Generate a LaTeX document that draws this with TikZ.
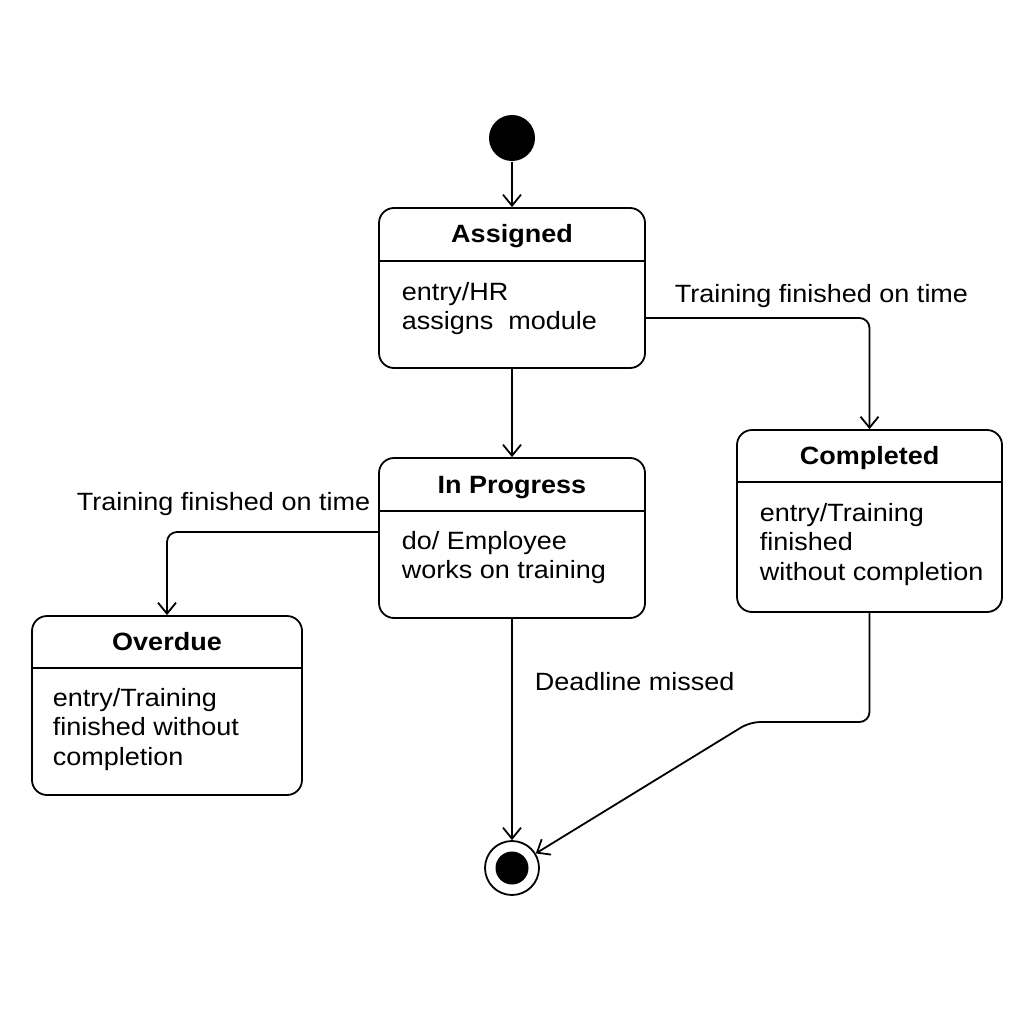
\documentclass[tikz,border=0pt]{standalone}
\usepackage{fontspec}
\setmainfont[FakeStretch=1.08]{Liberation Sans}
\usetikzlibrary{arrows.meta}
\begin{document}
\begin{tikzpicture}[x=1pt,y=-1pt,line width=1.8pt,
  statebox/.style={draw, rounded corners=15pt, inner sep=0pt},
  titletext/.style={inner sep=0pt, anchor=base, font=\fontsize{25}{29}\selectfont\bfseries},
  bodytext/.style={inner sep=0pt, anchor=base west, font=\fontsize{25}{29}\selectfont},
  lbl/.style={inner sep=0pt, font=\fontsize{25}{29}\selectfont},
  arr/.style={-{Straight Barb[length=11pt,width=18pt]}, line width=1.8pt}]
\fill[white] (0,0) rectangle (1024,1024);
\useasboundingbox (0,0) rectangle (1024,1024);

% initial and final states
\node[circle, fill=black, minimum size=46pt, inner sep=0pt] (init) at (512,138) {};
\node[circle, draw, minimum size=54pt, inner sep=0pt] (fin) at (512,868) {};
\node[circle, fill=black, minimum size=33pt, inner sep=0pt] (finin) at (512,868) {};

% state boxes
\node[statebox, minimum width=266pt, minimum height=160pt] (as) at (512,288) {};
\node[statebox, minimum width=266pt, minimum height=160pt] (ip) at (512,538) {};
\node[statebox, minimum width=265pt, minimum height=182pt] (comp) at (869.5,521) {};
\node[statebox, minimum width=270pt, minimum height=179pt] (od) at (167,705.5) {};

% dividers
\draw (as.west |- 0,261) -- (as.east |- 0,261);
\draw (ip.west |- 0,511) -- (ip.east |- 0,511);
\draw (comp.west |- 0,482) -- (comp.east |- 0,482);
\draw (od.west |- 0,668) -- (od.east |- 0,668);

% titles
\node[titletext] (ast) at (512,243) {Assigned};
\node[titletext] (ipt) at (512,493) {In Progress};
\node[titletext] (compt) at (869.5,464) {Completed};
\node[titletext] (odt) at (167,650) {Overdue};

% bodies
\node[bodytext] (asb1) at (401,300) {entry/HR};
\node[bodytext] (asb2) at (401,329) {assigns\ \ module};
\node[bodytext] (ipb1) at (401,549) {do/ Employee};
\node[bodytext] (ipb2) at (401,578) {works on training};
\node[bodytext] (cb1) at (759,521) {entry/Training};
\node[bodytext] (cb2) at (759,550) {finished};
\node[bodytext] (cb3) at (759,580) {without completion};
\node[bodytext] (ob1) at (52,706) {entry/Training};
\node[bodytext] (ob2) at (52,735) {finished without};
\node[bodytext] (ob3) at (52,765) {completion};

% connectors
\draw[arr] (init) -- (as);
\draw[arr] (as) -- (ip);
\draw[arr, rounded corners=10pt] (as.east |- 0,318) -| (comp.north);
\draw[arr, rounded corners=10pt] (ip.west |- 0,532) -| (od.north);
\draw[arr] (ip) -- (fin);
\coordinate (c1) at (869.5,722);
\coordinate (c2) at (750,722);
\draw[arr, rounded corners=10pt] (comp.south) -- (c1) -- (c2) -- (fin);

% labels
\node[lbl, anchor=base west] (l1) at (674,302) {Training finished on time};
\node[lbl, anchor=base east] (l2) at (371,510) {Training finished on time};
\node[lbl, anchor=base west] (l3) at (534,690) {Deadline missed};
\end{tikzpicture}
\end{document}
